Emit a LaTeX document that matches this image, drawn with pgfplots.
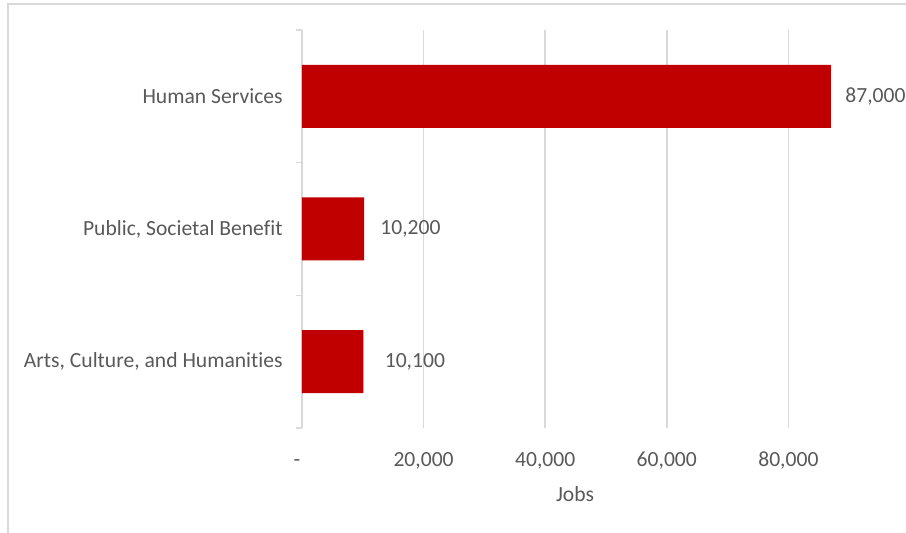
\documentclass[border=0pt]{standalone}
\usepackage{pgfplots}
\pgfplotsset{compat=1.18}
\usepackage{pgfplotstable}
\usepackage{fontspec}
\setmainfont{Carlito}[Ligatures=NoCommon]
\definecolor{barred}{HTML}{C00000}
\definecolor{txtgray}{HTML}{595959}
\definecolor{linegray}{HTML}{D9D9D9}
\newcommand\fs{\fontsize{10.8}{13}\selectfont}
\pgfplotstableread{
pos val lab
0 10100 \hspace*{3.5pt}10,100
1 10200 \hspace*{1pt}10,200
2 87000 87,000
}\datatable
\begin{document}
\begin{tikzpicture}
\useasboundingbox (0,0) rectangle (453pt,-266.5pt);
\draw[linegray, line width=1pt] (3.75pt,-2pt) rectangle (480pt,-300pt);
\begin{axis}[
 at={(151pt,-214pt)}, anchor=south west,
 scale only axis, width=304pt, height=199pt,
 xmin=0, xmax=100000, ymin=-0.5, ymax=2.5,
 scaled x ticks=false,
 axis x line*=bottom, axis y line*=left,
 axis line style={-},
 x axis line style={draw=none},
 y axis line style={draw=linegray, line width=0.75pt},
 xtick={0,20000,40000,60000,80000},
 xticklabels={{-\hspace*{5pt}},{20,000},{40,000},{60,000},{80,000}},
 xmajorgrids, grid style={linegray, line width=0.75pt},
 x tick style={draw=none},
 ytick={0,1,2},
 yticklabels={{Arts, Culture, and Humanities},{Public, Societal Benefit},{Human Services}},
 minor ytick={-0.5,0.5,1.5,2.5},
 y tick style={draw=linegray, line width=0.75pt},
 major tick length=0pt, minor tick length=3pt, tick align=outside,
 xticklabel style={anchor=base, yshift=-19.5pt, font=\fs, text=txtgray},
 yticklabel style={anchor=east, inner sep=0pt, xshift=-9.5pt, font=\fs, text=txtgray},
 xlabel={Jobs},
 xlabel style={at={(axis description cs:0.449,0)}, anchor=base, yshift=-37pt, font=\fs, text=txtgray},
 xbar, bar width=31.5pt,
 nodes near coords, point meta=explicit symbolic,
 nodes near coords style={anchor=west, inner sep=0pt, xshift=7pt, font=\fs, text=txtgray},
 clip=false,
]
\addplot[fill=barred, draw=none] table[x=val, y=pos, meta=lab] {\datatable};
\end{axis}
\end{tikzpicture}
\end{document}
